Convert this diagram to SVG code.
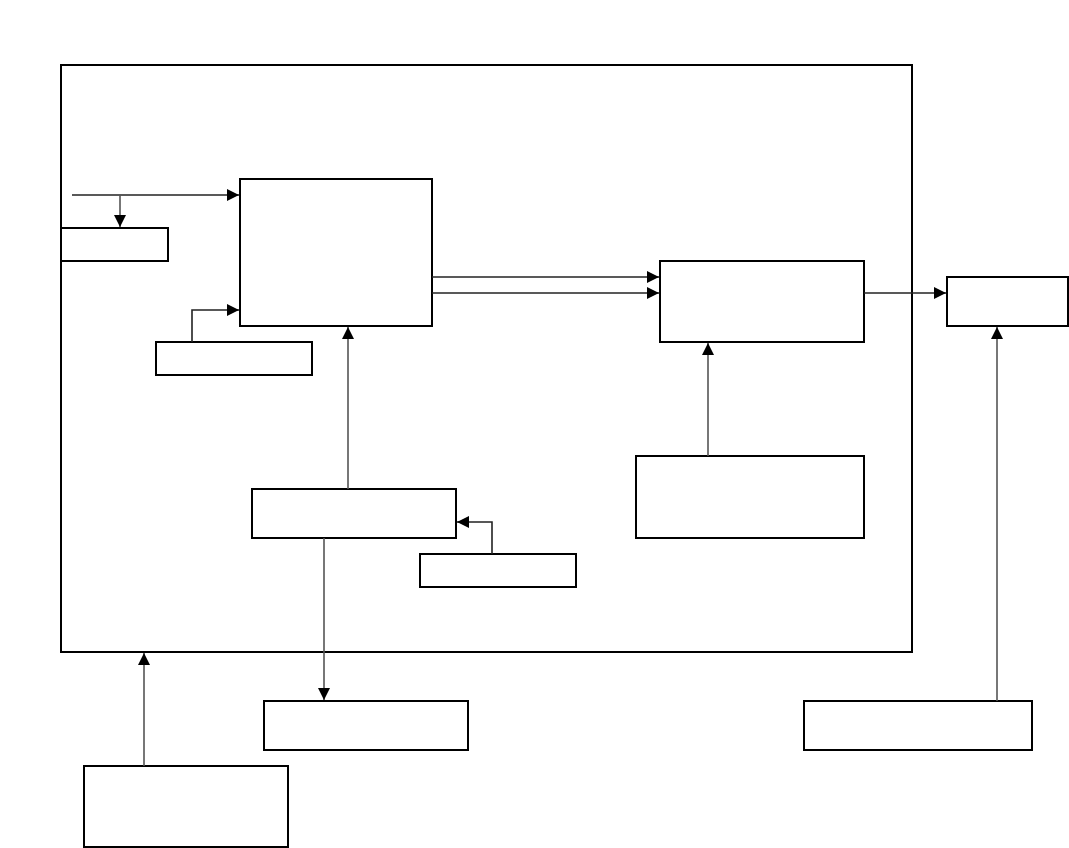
<svg xmlns="http://www.w3.org/2000/svg" width="1069" height="848" viewBox="0 0 1069 848">
<defs>
<marker id="ah" markerUnits="userSpaceOnUse" markerWidth="13" markerHeight="13" viewBox="0 0 13 13" refX="12" refY="6.5" orient="auto">
<path d="M0,0.5 L12,6.5 L0,12.5 Z" fill="#000"/>
</marker>
</defs>
<style>
.box{fill:#fff;stroke:#000;stroke-width:2}
.c{fill:none;stroke:#555;stroke-width:1.6;marker-end:url(#ah)}
.h{stroke:#222}
</style>
<rect width="1069" height="848" fill="#fff"/>
<g id="frame"><rect x="61" y="65" width="851" height="587" fill="none" stroke="#000" stroke-width="2"/></g>
<g id="nodeA"><rect class="box" x="240" y="179" width="192" height="147"/></g>
<g id="nodeB"><rect class="box" x="61" y="228" width="107" height="33"/></g>
<g id="nodeC"><rect class="box" x="156" y="342" width="156" height="33"/></g>
<g id="nodeD"><rect class="box" x="252" y="489" width="204" height="49"/></g>
<g id="nodeE"><rect class="box" x="420" y="554" width="156" height="33"/></g>
<g id="nodeF"><rect class="box" x="264" y="701" width="204" height="49"/></g>
<g id="nodeG"><rect class="box" x="84" y="766" width="204" height="81"/></g>
<g id="nodeH"><rect class="box" x="660" y="261" width="204" height="81"/></g>
<g id="nodeI"><rect class="box" x="947" y="277" width="121" height="49"/></g>
<g id="nodeJ"><rect class="box" x="636" y="456" width="228" height="82"/></g>
<g id="nodeK"><rect class="box" x="804" y="701" width="228" height="49"/></g>
<g id="connectors">
<path class="c h" d="M72,195 H239"/>
<path class="c" d="M120,195 V227"/>
<path class="c h" d="M192,342 V310 H239"/>
<path class="c" d="M348,489 V327"/>
<path class="c h" d="M492,554 V522 H457"/>
<path class="c" d="M324,538 V700"/>
<path class="c" d="M144,766 V653"/>
<path class="c h" d="M432,277 H659"/>
<path class="c h" d="M432,293 H659"/>
<path class="c h" d="M864,293 H946"/>
<path class="c" d="M708,456 V343"/>
<path class="c" d="M997,701 V327"/>
</g>
</svg>
